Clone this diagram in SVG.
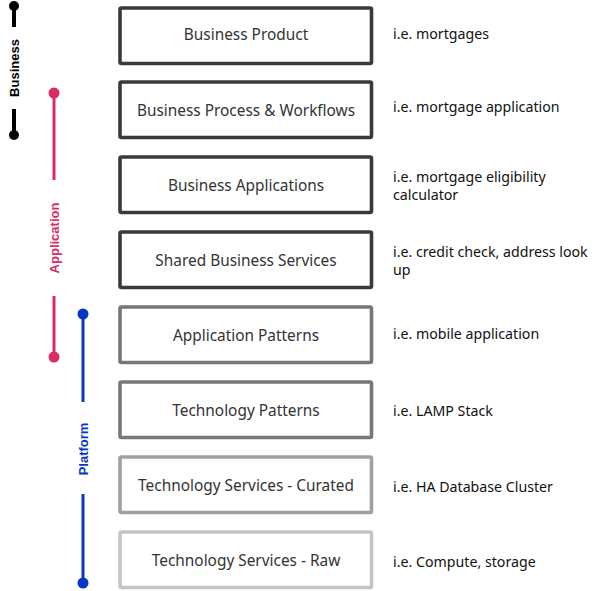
<svg xmlns="http://www.w3.org/2000/svg" width="607" height="591" viewBox="0 0 607 591">
<style>
.box{fill:#fff;stroke-width:3.6}
.bt{font-family:"Noto Sans","Open Sans",sans-serif;font-size:15.4px;fill:#333;text-anchor:middle}
.nt{font-family:"Noto Sans","Open Sans",sans-serif;font-size:14.2px;fill:#111}
.lbl{font-family:"Liberation Sans",Arial,sans-serif;font-size:13px;font-weight:bold;text-anchor:middle}
</style>
<rect width="607" height="591" fill="#fff"/>
<g id="connectors">
<g id="business-range" stroke="#000" fill="#000">
<circle cx="14" cy="6" r="5" stroke="none"/>
<line x1="14" y1="6" x2="14" y2="27" stroke-width="4"/>
<line x1="14" y1="109" x2="14" y2="135" stroke-width="4"/>
<circle cx="14" cy="135" r="5" stroke="none"/>
<text class="lbl" transform="translate(18.5,68) rotate(-90)" stroke="none">Business</text>
</g>
<g id="application-range" stroke="#dc2a64" fill="#dc2a64">
<circle cx="54" cy="93" r="5.5" stroke="none"/>
<line x1="54" y1="93" x2="54" y2="180" stroke-width="3"/>
<line x1="54" y1="296" x2="54" y2="357" stroke-width="3"/>
<circle cx="54" cy="357" r="5.5" stroke="none"/>
<text class="lbl" transform="translate(58.5,238) rotate(-90)" stroke="none">Application</text>
</g>
<g id="platform-range" stroke="#0536c8" fill="#0536c8">
<circle cx="83" cy="314" r="5.5" stroke="none"/>
<line x1="83" y1="314" x2="83" y2="402" stroke-width="3"/>
<line x1="83" y1="494" x2="83" y2="583" stroke-width="3"/>
<circle cx="83" cy="583" r="5.5" stroke="none"/>
<text class="lbl" transform="translate(87.5,449) rotate(-90)" stroke="none">Platform</text>
</g>
</g>
<g id="node1"><rect class="box" x="120" y="8" width="251.5" height="55.5" rx="1.5" stroke="#3a3a3a"/><text class="bt" x="246" y="40">Business Product</text></g>
<g id="node2"><rect class="box" x="120" y="82" width="251.5" height="55.5" rx="1.5" stroke="#3a3a3a"/><text class="bt" x="246" y="116">Business Process &amp; Workflows</text></g>
<g id="node3"><rect class="box" x="120" y="157" width="251.5" height="55.5" rx="1.5" stroke="#3a3a3a"/><text class="bt" x="246" y="191">Business Applications</text></g>
<g id="node4"><rect class="box" x="120" y="232" width="251.5" height="55.5" rx="1.5" stroke="#3a3a3a"/><text class="bt" x="246" y="266">Shared Business Services</text></g>
<g id="node5"><rect class="box" x="120" y="307" width="251.5" height="55.5" rx="1.5" stroke="#777"/><text class="bt" x="246" y="341">Application Patterns</text></g>
<g id="node6"><rect class="box" x="120" y="382" width="251.5" height="55.5" rx="1.5" stroke="#777"/><text class="bt" x="246" y="416">Technology Patterns</text></g>
<g id="node7"><rect class="box" x="120" y="457" width="251.5" height="55.5" rx="1.5" stroke="#a0a0a0"/><text class="bt" x="246" y="491">Technology Services - Curated</text></g>
<g id="node8"><rect class="box" x="120" y="532" width="251.5" height="55.5" rx="1.5" stroke="#c4c4c4"/><text class="bt" x="246" y="566">Technology Services - Raw</text></g>
<g id="notes">
<text class="nt" x="393" y="39">i.e. mortgages</text>
<text class="nt" x="393" y="112">i.e. mortgage application</text>
<text class="nt" x="393" y="182">i.e. mortgage eligibility</text>
<text class="nt" x="393" y="199.5">calculator</text>
<text class="nt" x="393" y="257">i.e. credit check, address look</text>
<text class="nt" x="393" y="274.5">up</text>
<text class="nt" x="393" y="339">i.e. mobile application</text>
<text class="nt" x="393" y="416">i.e. LAMP Stack</text>
<text class="nt" x="393" y="492">i.e. HA Database Cluster</text>
<text class="nt" x="393" y="567">i.e. Compute, storage</text>
</g>
</svg>
